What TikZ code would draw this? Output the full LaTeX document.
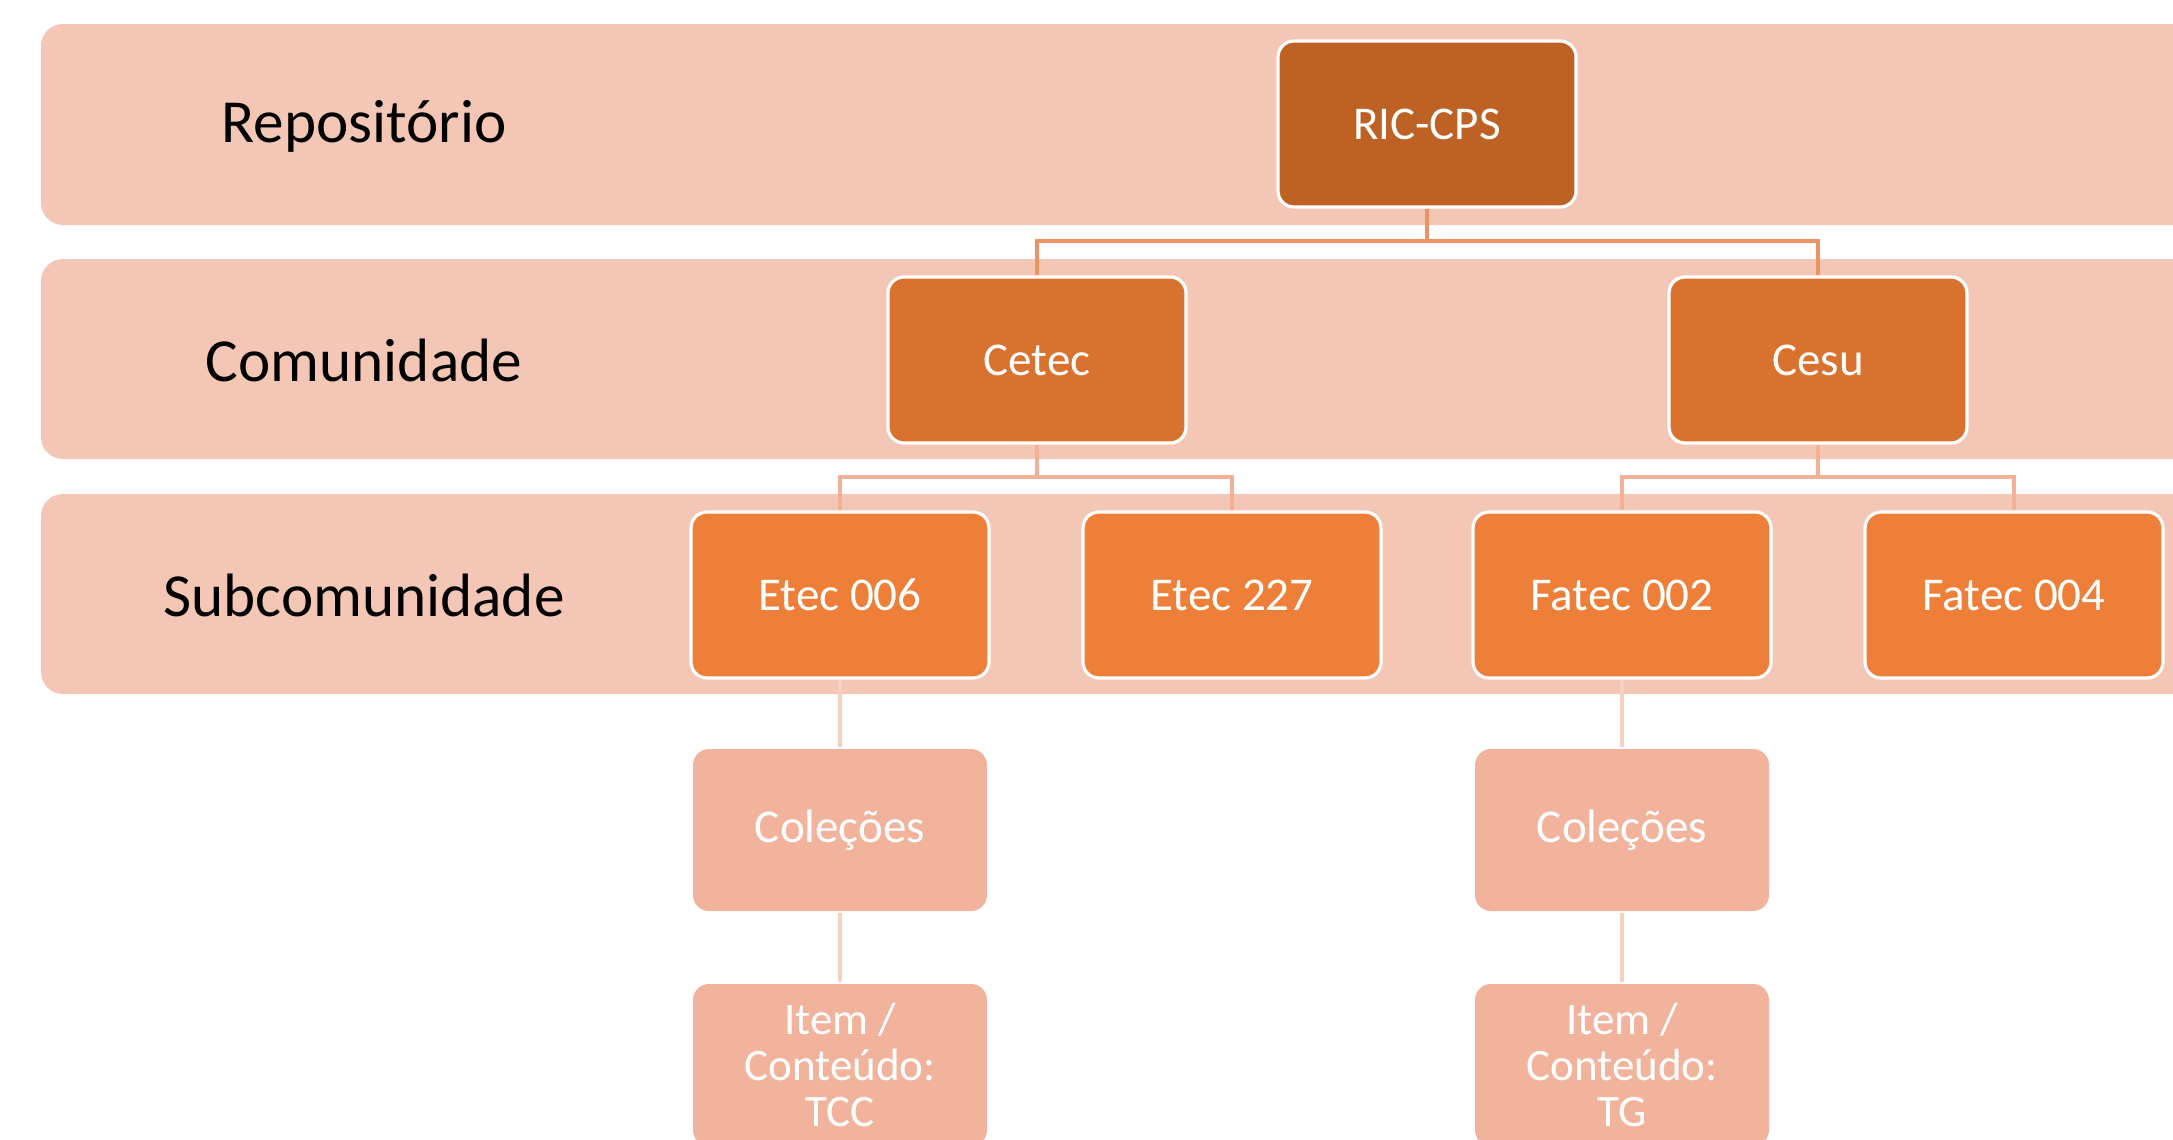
\documentclass[tikz,border=0pt]{standalone}
\usepackage{fontspec}
\setmainfont{Carlito}
\definecolor{bandc}{HTML}{F4C6B5}
\definecolor{ricc}{HTML}{BD6224}
\definecolor{commc}{HTML}{D8722E}
\definecolor{subc}{HTML}{ED7F38}
\definecolor{collc}{HTML}{F2B39C}
\definecolor{conna}{HTML}{EF9263}
\definecolor{connb}{HTML}{F2B097}
\definecolor{connc}{HTML}{F7D0C1}
\pgfdeclarelayer{bandlayer}
\pgfdeclarelayer{linelayer}
\pgfsetlayers{bandlayer,linelayer,main}
\begin{document}
\begin{tikzpicture}[x=0.5pt,y=-0.5pt,
  band/.style={fill=bandc,rounded corners=11pt},
  lbl/.style={font=\fontsize{30.6}{36}\selectfont,text=black},
  box/.style={rounded corners=8pt,draw=white,line width=1.6pt,minimum width=149pt,minimum height=83pt,
    text=white,font=\fontsize{23.5}{21}\selectfont,align=center,inner sep=0pt},
  ricbox/.style={box,fill=ricc},
  commbox/.style={box,fill=commc},
  subbox/.style={box,fill=subc},
  collbox/.style={box,fill=collc,draw=none,minimum width=147pt,minimum height=81pt},
  itembox/.style={collbox,font=\fontsize{22.5}{23}\selectfont},
  ca/.style={draw=conna,line width=1.6pt},
  cb/.style={draw=connb,line width=1.6pt},
  cc/.style={draw=connc,line width=1.6pt}]
\useasboundingbox (0,0) rectangle (2173,1140);
\clip (0,0) rectangle (2173,1140);
% bands
\begin{pgfonlayer}{bandlayer}
\fill[band] (41,24) rectangle (2230,225);
\fill[band] (41,259) rectangle (2230,459);
\fill[band] (41,494) rectangle (2230,694);
\end{pgfonlayer}
% labels
\node[lbl] (l1) at (364,126) {Repositório};
\node[lbl] (l2) at (364,360) {Comunidade};
\node[lbl] (l3) at (364,595) {Subcomunidade};
% boxes
\node[ricbox] (ric) at (1427,124) {RIC-CPS};
\node[commbox] (cetec) at (1037,360) {Cetec};
\node[commbox] (cesu) at (1818,360) {Cesu};
\node[subbox] (e006) at (840,595) {Etec 006};
\node[subbox] (e227) at (1232,595) {Etec 227};
\node[subbox] (f002) at (1622,595) {Fatec 002};
\node[subbox] (f004) at (2014,595) {Fatec 004};
\node[collbox] (col1) at (840,830) {\raisebox{-2pt}{Coleções}};
\node[collbox] (col2) at (1622,830) {\raisebox{-2pt}{Coleções}};
\node[itembox] (it1) at (840,1065) {Item /\\Conteúdo:\\TCC};
\node[itembox] (it2) at (1622,1065) {Item /\\Conteúdo:\\TG};
% junctions
\coordinate (jr) at (ric.south |- 0,241);
\coordinate (jc) at (cetec.south |- 0,477);
\coordinate (js) at (cesu.south |- 0,477);
% connectors
\begin{pgfonlayer}{linelayer}
\draw[ca] (ric.south) -- (jr) -| (cetec.north);
\draw[ca] (jr) -| (cesu.north);
\draw[cb] (cetec.south) -- (jc) -| (e006.north);
\draw[cb] (jc) -| (e227.north);
\draw[cb] (cesu.south) -- (js) -| (f002.north);
\draw[cb] (js) -| (f004.north);
\draw[cc] (e006.south) -- (col1.north);
\draw[cc] (col1.south) -- (it1.north);
\draw[cc] (f002.south) -- (col2.north);
\draw[cc] (col2.south) -- (it2.north);
\end{pgfonlayer}
\end{tikzpicture}
\end{document}
